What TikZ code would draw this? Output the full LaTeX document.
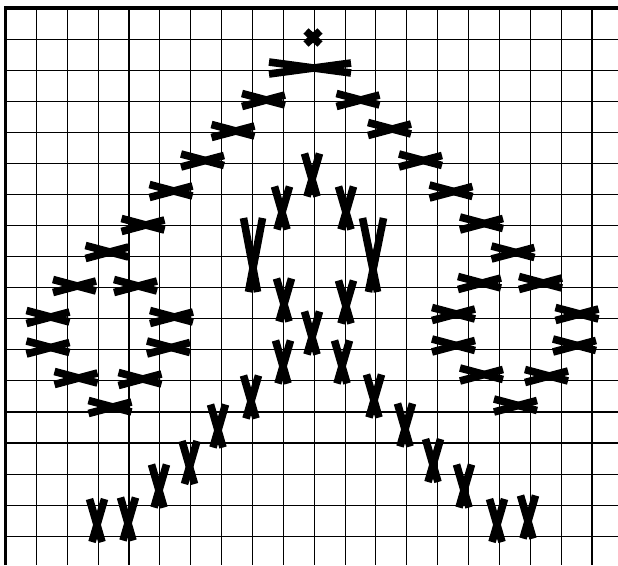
\documentclass[tikz,border=0pt]{standalone}
\usetikzlibrary{calc}
\tikzset{
  gridline/.style={draw=black,line width=1.1pt},
  frameline/.style={draw=black,line width=3.4pt,line join=miter},
  stitch/.style={draw=black,line width=7.6pt,line cap=butt},
  knot/.style={stitch,line width=7.5pt}
}
\begin{document}
\begin{tikzpicture}[x=1pt,y=-1pt]
\useasboundingbox (0,0) rectangle (618,565);

% grid
\foreach \i in {1,...,19}
  \draw[gridline] ({5.5+30.87*\i},8) -- ({5.5+30.87*\i},565);
\foreach \j in {1,...,17}
  \draw[gridline] (5.5,{8.2+31.06*\j}) -- (618,{8.2+31.06*\j});
\draw[frameline] (5.5,565) -- (5.5,8) -- (618,8);

% top knot
\draw[knot] (306,31) -- (320,44);
\draw[knot] (306,44) -- (320,31);

% lying stitches: centre x / centre y / half length / left spread / right spread
\foreach \cx/\cy/\a/\p/\q in {
  310/68/41/6/5,
  263.5/100/21.5/6.5/5, 233/131/21.5/6.5/5, 202.5/160.5/21.5/6.5/5,
  171/191/21.5/6.5/5, 143/225/21.5/6.5/5, 107/252/21.5/6.5/5,
  74.5/286/21.5/6.5/5, 135.5/286/21.5/6.5/5,
  48/317/21.5/6.5/5, 171.5/317/21.5/6.5/5,
  48/347.5/21.5/6.5/5, 168.5/347.5/21.5/6.5/5,
  76/378/21.5/6.5/5, 140/379/21.5/6.5/5, 110/407/21.5/6.5/5,
  358/100/21.5/6.5/5, 389.5/129/21.5/6.5/5, 420.5/160.5/21.5/6.5/5,
  451/191.5/21.5/6.5/5, 481.5/223.5/21.5/6.5/5, 513/252.5/21.5/6.5/5,
  479.5/283/21.5/6.5/5, 540.5/283/21.5/6.5/5,
  453.5/314/21.5/6.5/5, 577/314/21.5/6.5/5,
  453.5/345.5/21.5/6.5/5, 574.5/345.5/21.5/6.5/5,
  481.5/374.5/21.5/6.5/5, 546.5/376/21.5/6.5/5, 515.5/405.5/21.5/6.5/5}
{
  \draw[stitch] ({\cx-\a},{\cy-\p}) -- ({\cx+\a},{\cy+\q});
  \draw[stitch] ({\cx-\a},{\cy+\p}) -- ({\cx+\a},{\cy-\q});
}

% standing stitches: centre x / centre y / half length / top spread / bottom spread
\foreach \cx/\cy/\a/\p/\q in {
  312/175/21.5/7.5/5,
  282/208/21.5/7.5/5, 346/208/21.5/7.5/5,
  253/255/37/9.5/4.5, 373/255/37/10.5/4.5,
  284/300/21.5/7.5/5, 346/302/21.5/7.5/5, 312/333/21.5/7.5/5,
  283/362/21.5/7.5/5, 342/362/21.5/7.5/5,
  251/397/21.5/7.5/5, 374/396/21.5/7.5/5,
  218/426/21.5/7.5/5, 405/425/21.5/7.5/5,
  189.5/462.5/21.5/7.5/5, 433/460.5/21.5/7.5/5,
  159/486/21.5/7.5/5, 464/486/21.5/7.5/5,
  97/520.5/21.5/7.5/5, 128/519/21.5/7.5/5,
  497/520.5/21.5/7.5/5, 528/517/21.5/7.5/5}
{
  \draw[stitch] ({\cx-\p},{\cy-\a}) -- ({\cx+\q},{\cy+\a});
  \draw[stitch] ({\cx+\p},{\cy-\a}) -- ({\cx-\q},{\cy+\a});
}
\end{tikzpicture}
\end{document}
